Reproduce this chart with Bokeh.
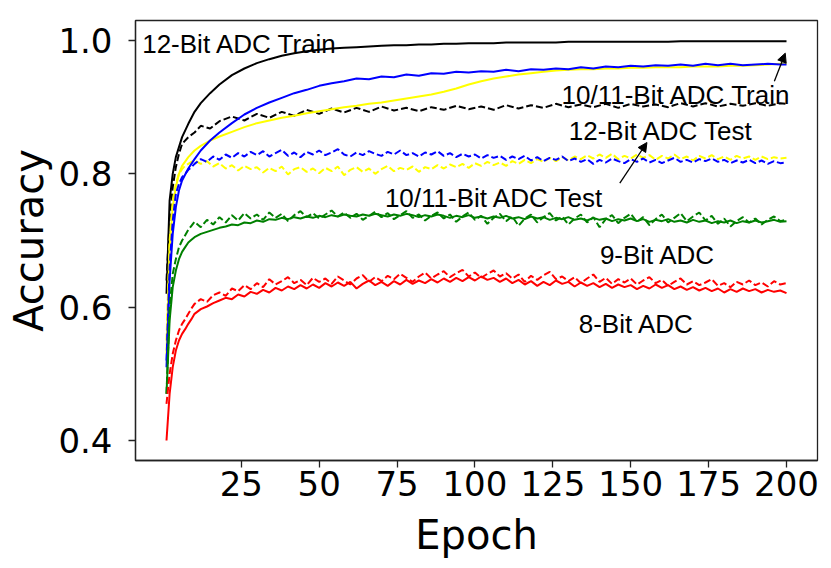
from bokeh.plotting import figure
from bokeh.models import Range1d, FixedTicker, CustomJSTickFormatter, Label, Arrow, NormalHead
from bokeh.embed import file_html
from bokeh.resources import INLINE

# coarse epochs for the smooth curves, fine epochs for the noisy ones
epochs_c = [1, 2, 3, 4, 5, 6, 8, 10, 12, 15] + list(range(18, 199, 4)) + [200]
epochs_f = [1, 2, 3, 4, 5, 6, 7, 8, 9] + list(range(10, 201, 2))

train_12 = [0.62, 0.76, 0.80, 0.825, 0.84, 0.855, 0.875, 0.893, 0.906, 0.921,
            0.934, 0.948, 0.958, 0.966, 0.972, 0.977, 0.981, 0.984, 0.986, 0.988,
            0.989, 0.990, 0.991, 0.992, 0.993, 0.993, 0.994, 0.994, 0.995, 0.995,
            0.996, 0.996, 0.996, 0.997, 0.997, 0.997, 0.997, 0.997, 0.998, 0.998,
            0.998, 0.998, 0.998, 0.998, 0.998, 0.998, 0.998, 0.999, 0.999, 0.999,
            0.999, 0.999, 0.999, 0.999, 0.999, 0.999, 0.999]
test_12 = [0.64, 0.73, 0.78, 0.81, 0.83, 0.845, 0.855, 0.862, 0.872, 0.868,
           0.879, 0.886, 0.880, 0.890, 0.884, 0.893, 0.887, 0.896, 0.890, 0.898,
           0.892, 0.899, 0.893, 0.901, 0.895, 0.899, 0.894, 0.900, 0.896, 0.902,
           0.897, 0.901, 0.896, 0.903, 0.898, 0.903, 0.899, 0.905, 0.900, 0.904,
           0.900, 0.905, 0.899, 0.905, 0.901, 0.904, 0.900, 0.906, 0.901, 0.906,
           0.901, 0.905, 0.902, 0.906, 0.902, 0.906, 0.905]
train_blue = [0.51, 0.64, 0.71, 0.75, 0.775, 0.79, 0.808, 0.822, 0.835, 0.85,
              0.862, 0.876, 0.889, 0.899, 0.907, 0.914, 0.921, 0.926, 0.932, 0.936,
              0.939, 0.943, 0.942, 0.946, 0.945, 0.949, 0.947, 0.951, 0.950, 0.953,
              0.952, 0.954, 0.953, 0.956, 0.954, 0.957, 0.956, 0.958, 0.957, 0.960,
              0.958, 0.961, 0.960, 0.962, 0.961, 0.963, 0.962, 0.964, 0.962, 0.965,
              0.963, 0.965, 0.963, 0.964, 0.965, 0.964, 0.964]
train_yellow = [0.53, 0.69, 0.75, 0.78, 0.80, 0.812, 0.825, 0.835, 0.842, 0.850,
                0.856, 0.863, 0.870, 0.876, 0.880, 0.884, 0.887, 0.891, 0.894, 0.897,
                0.900, 0.902, 0.905, 0.907, 0.910, 0.913, 0.916, 0.919, 0.923, 0.928,
                0.934, 0.939, 0.943, 0.946, 0.949, 0.951, 0.953, 0.955, 0.956, 0.957,
                0.957, 0.958, 0.958, 0.959, 0.959, 0.960, 0.960, 0.960, 0.961, 0.961,
                0.961, 0.962, 0.962, 0.963, 0.964, 0.965, 0.965]
test_blue = [0.52, 0.66, 0.73, 0.77, 0.785, 0.795, 0.80, 0.806, 0.81,
             0.815, 0.822, 0.818, 0.826, 0.821, 0.829, 0.824, 0.831, 0.826, 0.833,
             0.828, 0.834, 0.826, 0.831, 0.836, 0.827, 0.832, 0.825, 0.833, 0.829,
             0.835, 0.828, 0.832, 0.837, 0.829, 0.826, 0.832, 0.828, 0.834, 0.830,
             0.827, 0.833, 0.829, 0.835, 0.828, 0.831, 0.826, 0.832, 0.829, 0.834,
             0.827, 0.831, 0.825, 0.830, 0.826, 0.829, 0.823, 0.828, 0.824, 0.827,
             0.821, 0.826, 0.822, 0.827, 0.820, 0.825, 0.819, 0.824, 0.821, 0.826,
             0.819, 0.823, 0.818, 0.822, 0.815, 0.821, 0.817, 0.823, 0.819, 0.816,
             0.822, 0.818, 0.823, 0.817, 0.821, 0.816, 0.820, 0.824, 0.818, 0.821,
             0.817, 0.822, 0.819, 0.823, 0.818, 0.821, 0.816, 0.820, 0.817, 0.821,
             0.816, 0.820, 0.815, 0.819, 0.816, 0.817]
test_yellow = [0.55, 0.70, 0.76, 0.785, 0.80, 0.807, 0.812, 0.815, 0.818,
               0.820, 0.815, 0.819, 0.811, 0.816, 0.808, 0.813, 0.805, 0.812, 0.807,
               0.810, 0.802, 0.809, 0.804, 0.811, 0.799, 0.807, 0.810, 0.803, 0.808,
               0.801, 0.809, 0.804, 0.811, 0.798, 0.806, 0.810, 0.803, 0.808, 0.800,
               0.807, 0.812, 0.804, 0.809, 0.806, 0.811, 0.803, 0.810, 0.807, 0.813,
               0.808, 0.814, 0.810, 0.815, 0.809, 0.816, 0.812, 0.818, 0.813, 0.817,
               0.812, 0.819, 0.815, 0.821, 0.816, 0.822, 0.818, 0.824, 0.819, 0.825,
               0.820, 0.826, 0.822, 0.828, 0.823, 0.829, 0.824, 0.830, 0.822, 0.827,
               0.823, 0.829, 0.824, 0.828, 0.821, 0.827, 0.823, 0.829, 0.822, 0.826,
               0.820, 0.827, 0.823, 0.828, 0.822, 0.826, 0.821, 0.827, 0.823, 0.826,
               0.821, 0.826, 0.822, 0.825, 0.823, 0.824]
train_9 = [0.47, 0.58, 0.63, 0.655, 0.672, 0.683, 0.690, 0.697, 0.701,
           0.705, 0.710, 0.713, 0.716, 0.719, 0.721, 0.724, 0.723, 0.727, 0.726,
           0.730, 0.728, 0.732, 0.731, 0.734, 0.732, 0.735, 0.733, 0.736, 0.734,
           0.737, 0.735, 0.738, 0.736, 0.739, 0.737, 0.736, 0.739, 0.737, 0.740,
           0.738, 0.736, 0.739, 0.737, 0.740, 0.738, 0.735, 0.738, 0.736, 0.739,
           0.737, 0.734, 0.737, 0.735, 0.738, 0.734, 0.736, 0.733, 0.736, 0.734,
           0.737, 0.733, 0.735, 0.732, 0.736, 0.733, 0.735, 0.731, 0.734, 0.732,
           0.735, 0.731, 0.733, 0.730, 0.734, 0.731, 0.733, 0.729, 0.732, 0.730,
           0.733, 0.729, 0.732, 0.728, 0.731, 0.729, 0.732, 0.728, 0.730, 0.727,
           0.731, 0.728, 0.730, 0.726, 0.729, 0.727, 0.730, 0.726, 0.729, 0.727,
           0.730, 0.727, 0.729, 0.731, 0.728, 0.729]
test_9 = [0.47, 0.60, 0.65, 0.672, 0.690, 0.700, 0.708, 0.716, 0.722,
          0.728, 0.720, 0.731, 0.724, 0.735, 0.727, 0.738, 0.730, 0.741, 0.733,
          0.739, 0.731, 0.742, 0.734, 0.740, 0.729, 0.738, 0.744, 0.735, 0.741,
          0.733, 0.739, 0.745, 0.736, 0.742, 0.734, 0.740, 0.731, 0.737, 0.743,
          0.735, 0.741, 0.732, 0.738, 0.744, 0.734, 0.739, 0.730, 0.737, 0.742,
          0.733, 0.739, 0.728, 0.736, 0.742, 0.731, 0.737, 0.725, 0.734, 0.740,
          0.729, 0.736, 0.722, 0.733, 0.739, 0.727, 0.735, 0.741, 0.730, 0.736,
          0.724, 0.733, 0.739, 0.727, 0.735, 0.720, 0.732, 0.738, 0.726, 0.734,
          0.740, 0.728, 0.735, 0.723, 0.732, 0.739, 0.727, 0.734, 0.741, 0.729,
          0.736, 0.742, 0.730, 0.737, 0.725, 0.733, 0.721, 0.729, 0.735, 0.727,
          0.733, 0.724, 0.731, 0.736, 0.729, 0.731]
train_8 = [0.40, 0.47, 0.51, 0.535, 0.55, 0.56, 0.567, 0.575, 0.582,
           0.590, 0.597, 0.601, 0.606, 0.610, 0.614, 0.612, 0.619, 0.616, 0.623,
           0.620, 0.626, 0.622, 0.629, 0.625, 0.631, 0.627, 0.633, 0.628, 0.634,
           0.629, 0.636, 0.631, 0.637, 0.632, 0.638, 0.628, 0.635, 0.640, 0.633,
           0.638, 0.632, 0.639, 0.634, 0.641, 0.635, 0.640, 0.636, 0.642, 0.637,
           0.643, 0.638, 0.644, 0.639, 0.645, 0.640, 0.646, 0.641, 0.644, 0.638,
           0.643, 0.636, 0.641, 0.634, 0.639, 0.632, 0.638, 0.633, 0.640, 0.635,
           0.638, 0.631, 0.637, 0.632, 0.636, 0.630, 0.635, 0.629, 0.634, 0.630,
           0.633, 0.627, 0.632, 0.628, 0.634, 0.629, 0.633, 0.627, 0.631, 0.626,
           0.630, 0.625, 0.629, 0.624, 0.628, 0.622, 0.627, 0.623, 0.628, 0.624,
           0.627, 0.622, 0.626, 0.623, 0.625, 0.621]
test_8 = [0.455, 0.50, 0.53, 0.55, 0.565, 0.575, 0.582, 0.590, 0.598,
          0.605, 0.612, 0.608, 0.618, 0.622, 0.617, 0.628, 0.624, 0.633, 0.627,
          0.636, 0.630, 0.642, 0.634, 0.639, 0.645, 0.636, 0.641, 0.633, 0.644,
          0.638, 0.643, 0.635, 0.646, 0.640, 0.634, 0.643, 0.648, 0.638, 0.645,
          0.639, 0.647, 0.642, 0.650, 0.644, 0.638, 0.646, 0.652, 0.643, 0.649,
          0.654, 0.645, 0.651, 0.656, 0.646, 0.652, 0.644, 0.650, 0.655, 0.646,
          0.651, 0.643, 0.649, 0.638, 0.647, 0.641, 0.648, 0.653, 0.642, 0.646,
          0.639, 0.645, 0.636, 0.643, 0.649, 0.638, 0.644, 0.635, 0.642, 0.637,
          0.643, 0.634, 0.640, 0.645, 0.636, 0.641, 0.632, 0.638, 0.643, 0.634,
          0.639, 0.633, 0.637, 0.642, 0.632, 0.636, 0.630, 0.638, 0.634, 0.640,
          0.633, 0.637, 0.631, 0.639, 0.634, 0.636]

x_ticks = [25, 50, 75, 100, 125, 150, 175, 200]
y_ticks = [0.4, 0.6, 0.8, 1.0]
labels = ["12-Bit ADC Train", "10/11-Bit ADC Train", "12-Bit ADC Test",
          "10/11-Bit ADC Test", "9-Bit ADC", "8-Bit ADC"]

p = figure(width=823, height=560, output_backend="svg", toolbar_location=None,
           x_range=Range1d(-8.95, 209.95), y_range=Range1d(0.37, 1.03),
           min_border_left=135, min_border_right=6, min_border_top=20, min_border_bottom=98)
p.background_fill_color = "white"
p.border_fill_color = "white"
p.outline_line_color = "#222222"
p.outline_line_width = 1.3
p.xgrid.visible = False
p.ygrid.visible = False

series = [
    (epochs_c, train_12, "black", "solid"),
    (epochs_c, test_12, "black", "7 3"),
    (epochs_c, train_yellow, "#ffff00", "solid"),
    (epochs_f, test_yellow, "#ffff00", "7 3"),
    (epochs_c, train_blue, "#0000ff", "solid"),
    (epochs_f, test_blue, "#0000ff", "7 3"),
    (epochs_f, train_9, "#008000", "solid"),
    (epochs_f, test_9, "#008000", "7 3"),
    (epochs_f, train_8, "#ff0000", "solid"),
    (epochs_f, test_8, "#ff0000", "7 3"),
]
for xs, ys, col, dash in series:
    p.line(xs, ys, line_color=col, line_width=2, line_dash=dash)

for ax in (p.xaxis[0], p.yaxis[0]):
    ax.axis_line_color = "#222222"
    ax.axis_line_width = 1.3
    ax.major_tick_line_color = "#222222"
    ax.major_tick_line_width = 1.3
    ax.major_tick_out = 7
    ax.major_tick_in = 0
    ax.minor_tick_line_color = None
    ax.major_label_text_font = "DejaVu Sans"
    ax.major_label_text_font_size = "34px"
    ax.major_label_text_color = "black"
    ax.axis_label_text_font = "DejaVu Sans"
    ax.axis_label_text_font_size = "40px"
    ax.axis_label_text_font_style = "normal"
    ax.axis_label_text_color = "black"

p.xaxis.ticker = FixedTicker(ticks=x_ticks)
p.yaxis.ticker = FixedTicker(ticks=y_ticks)
p.yaxis.formatter = CustomJSTickFormatter(code="return tick.toFixed(1);")
p.xaxis.axis_label = "Epoch"
p.yaxis.axis_label = "Accuracy"
p.xaxis.major_label_standoff = 3
p.yaxis.major_label_standoff = 16
p.xaxis.axis_label_standoff = 13
p.yaxis.axis_label_standoff = 3

label_pos = [(-6.8, 0.9955), (127.8, 0.918), (130.1, 0.865), (71.1, 0.764), (140.1, 0.679), (133.3, 0.575)]
for txt, (lx, ly) in zip(labels, label_pos):
    p.add_layout(Label(x=lx, y=ly, text=txt, text_font="Liberation Sans", text_font_size="26px",
                       text_color="black", text_baseline="alphabetic", text_align="left"))

for (xs, ys, xe, ye) in [(196.1, 0.939, 199.6, 0.981), (146.5, 0.786, 155.2, 0.847)]:
    p.add_layout(Arrow(end=NormalHead(size=9, fill_color="black", line_color="black", line_width=1),
                       x_start=xs, y_start=ys, x_end=xe, y_end=ye, line_color="black", line_width=1.3))

open("out.html", "w").write(file_html(p, INLINE))
